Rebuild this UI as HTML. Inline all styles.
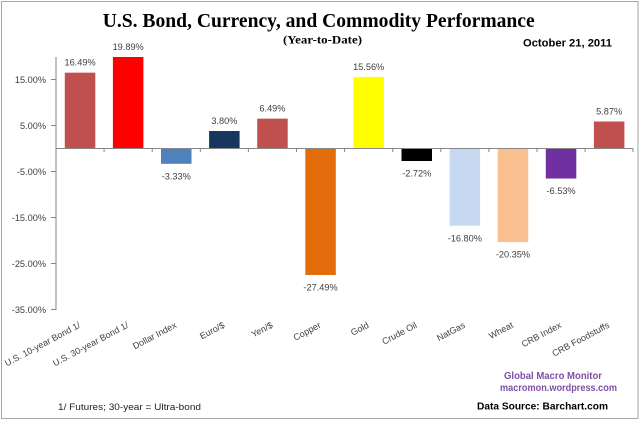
<!DOCTYPE html>
<html>
<head>
<meta charset="utf-8">
<style>
html,body{margin:0;padding:0;background:#fff;}
svg{display:block;}
text{font-family:"Liberation Sans",sans-serif;}
text.serif{font-family:"Liberation Serif",serif;}
</style>
</head>
<body>
<svg width="640" height="421" viewBox="0 0 640 421" xmlns="http://www.w3.org/2000/svg">
<rect x="0" y="0" width="640" height="421" fill="#fff"/>
<rect x="1.5" y="1.5" width="636.5" height="417" fill="none" stroke="#a6a6a6" stroke-width="1"/>

<!-- Title -->
<text class="serif" x="102.7" y="27" font-weight="bold" font-size="20" textLength="432" lengthAdjust="spacingAndGlyphs" fill="#000">U.S. Bond, Currency, and Commodity Performance</text>
<text class="serif" x="283" y="43.3" font-weight="bold" font-size="12" textLength="79" lengthAdjust="spacingAndGlyphs" fill="#000">(Year-to-Date)</text>
<text x="523" y="46.5" font-weight="bold" font-size="11" textLength="89" lengthAdjust="spacingAndGlyphs" fill="#000">October 21, 2011</text>

<!-- Bars -->
<g>
<rect x="64.8" y="72.65" width="30.5" height="75.85" fill="#c0504d"/>
<rect x="112.9" y="57.0" width="30.5" height="91.5" fill="#ff0000"/>
<rect x="161.0" y="148.5" width="30.5" height="15.32" fill="#4f81bd"/>
<rect x="209.1" y="131.02" width="30.5" height="17.48" fill="#17375e"/>
<rect x="257.2" y="118.65" width="30.5" height="29.85" fill="#c0504d"/>
<rect x="305.3" y="148.5" width="30.5" height="126.45" fill="#e46c0a"/>
<rect x="353.4" y="76.92" width="30.5" height="71.58" fill="#ffff00"/>
<rect x="401.5" y="148.5" width="30.5" height="12.51" fill="#000000"/>
<rect x="449.6" y="148.5" width="30.5" height="77.28" fill="#c6d9f1"/>
<rect x="497.7" y="148.5" width="30.5" height="93.61" fill="#fac090"/>
<rect x="545.8" y="148.5" width="30.5" height="30.04" fill="#7030a0"/>
<rect x="593.9" y="121.5" width="30.5" height="27.0" fill="#c0504d"/>
</g>

<!-- Axes -->
<g stroke="#868686" stroke-width="1" fill="none">
<line x1="56" y1="57" x2="56" y2="310"/>
<line x1="56" y1="148.5" x2="633" y2="148.5"/>
<line x1="51" y1="79.5" x2="56" y2="79.5"/>
<line x1="51" y1="125.5" x2="56" y2="125.5"/>
<line x1="51" y1="171.5" x2="56" y2="171.5"/>
<line x1="51" y1="217.5" x2="56" y2="217.5"/>
<line x1="51" y1="263.5" x2="56" y2="263.5"/>
<line x1="51" y1="309.5" x2="56" y2="309.5"/>
<line x1="104.1" y1="148.5" x2="104.1" y2="152"/>
<line x1="152.2" y1="148.5" x2="152.2" y2="152"/>
<line x1="200.3" y1="148.5" x2="200.3" y2="152"/>
<line x1="248.4" y1="148.5" x2="248.4" y2="152"/>
<line x1="296.5" y1="148.5" x2="296.5" y2="152"/>
<line x1="344.6" y1="148.5" x2="344.6" y2="152"/>
<line x1="392.7" y1="148.5" x2="392.7" y2="152"/>
<line x1="440.8" y1="148.5" x2="440.8" y2="152"/>
<line x1="488.9" y1="148.5" x2="488.9" y2="152"/>
<line x1="537.0" y1="148.5" x2="537.0" y2="152"/>
<line x1="585.1" y1="148.5" x2="585.1" y2="152"/>
<line x1="633" y1="148.5" x2="633" y2="152"/>
</g>

<!-- Y tick labels -->
<g font-size="9.2" fill="#404040" text-anchor="end">
<text x="46" y="82.8">15.00%</text>
<text x="46" y="128.8">5.00%</text>
<text x="46" y="174.8">-5.00%</text>
<text x="46" y="220.8">-15.00%</text>
<text x="46" y="266.8">-25.00%</text>
<text x="46" y="312.8">-35.00%</text>
</g>

<!-- Data labels -->
<g font-size="9.2" fill="#404040" text-anchor="middle">
<text x="80.05" y="65.6">16.49%</text>
<text x="128.15" y="50">19.89%</text>
<text x="176.25" y="179.3">-3.33%</text>
<text x="224.35" y="124">3.80%</text>
<text x="272.45" y="111.6">6.49%</text>
<text x="320.55" y="290.4">-27.49%</text>
<text x="368.65" y="69.9">15.56%</text>
<text x="416.75" y="176.5">-2.72%</text>
<text x="464.85" y="241.3">-16.80%</text>
<text x="512.95" y="257.6">-20.35%</text>
<text x="561.05" y="194">-6.53%</text>
<text x="609.15" y="114.5">5.87%</text>
</g>

<!-- Category labels -->
<g font-size="9" fill="#404040" text-anchor="end">
<text transform="translate(81,327) rotate(-28)">U.S. 10-year Bond 1/</text>
<text transform="translate(129.1,327) rotate(-28)">U.S. 30-year Bond 1/</text>
<text transform="translate(177.2,327) rotate(-28)">Dollar Index</text>
<text transform="translate(225.3,327) rotate(-28)">Euro/$</text>
<text transform="translate(273.4,327) rotate(-28)">Yen/$</text>
<text transform="translate(321.5,327) rotate(-28)">Copper</text>
<text transform="translate(369.6,327) rotate(-28)">Gold</text>
<text transform="translate(417.7,327) rotate(-28)">Crude Oil</text>
<text transform="translate(465.8,327) rotate(-28)">NatGas</text>
<text transform="translate(513.9,327) rotate(-28)">Wheat</text>
<text transform="translate(562,327) rotate(-28)">CRB Index</text>
<text transform="translate(610.1,327) rotate(-28)">CRB Foodstuffs</text>
</g>

<!-- Footer texts -->
<text x="504" y="379" font-weight="bold" font-size="10" fill="#7f4fa6" textLength="98" lengthAdjust="spacingAndGlyphs">Global Macro Monitor</text>
<text x="500" y="391" font-weight="bold" font-size="10" fill="#7f4fa6" textLength="117" lengthAdjust="spacingAndGlyphs">macromon.wordpress.com</text>
<text x="477" y="409.3" font-weight="bold" font-size="10.5" fill="#000" textLength="131" lengthAdjust="spacingAndGlyphs">Data Source: Barchart.com</text>
<text x="58" y="410" font-size="9.2" fill="#222" textLength="143" lengthAdjust="spacingAndGlyphs">1/ Futures; 30-year = Ultra-bond</text>
</svg>
</body>
</html>
